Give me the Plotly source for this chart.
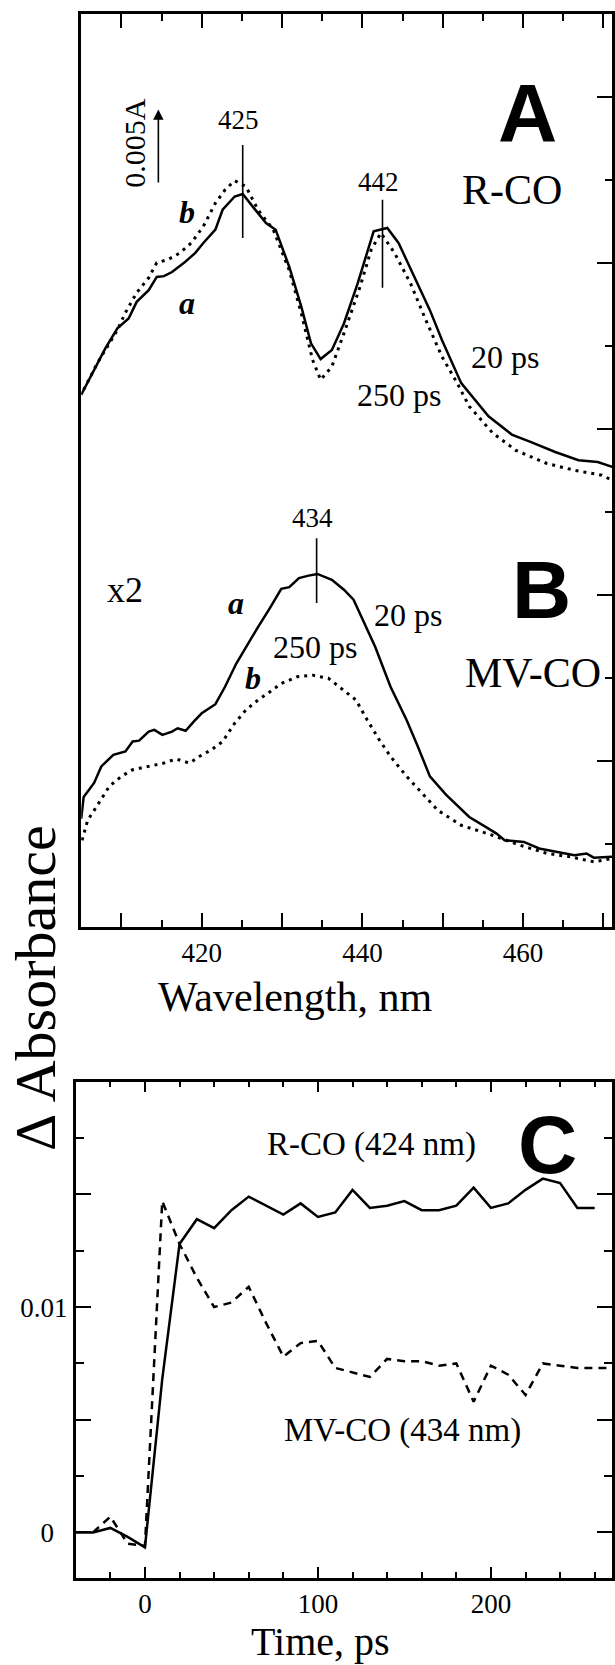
import plotly.graph_objects as go

# ---------------- Panel A (R-CO) transient spectra ----------------
wl_a_20ps = [405.0, 406.6, 408.0, 409.5, 410.9, 411.9, 413.4, 414.4, 415.3, 416.3, 417.8, 419.2,
             420.2, 421.7, 422.6, 424.1, 425.1, 426.5, 428.0, 429.2, 430.9, 432.4, 433.6, 434.8,
             436.2, 437.7, 439.4, 441.4, 443.1, 444.5, 446.5, 448.4, 449.9, 452.3, 455.7, 458.6,
             461.0, 464.0, 466.9, 469.3, 471.1]
dA_a_20ps = [6.41, 6.71, 6.97, 7.21, 7.33, 7.53, 7.67, 7.83, 7.84, 7.89, 8.00, 8.12,
             8.24, 8.40, 8.64, 8.80, 8.83, 8.66, 8.48, 8.40, 7.95, 7.47, 7.03, 6.84,
             6.95, 7.27, 7.75, 8.38, 8.42, 8.24, 7.83, 7.43, 7.07, 6.55, 6.15, 5.93,
             5.84, 5.72, 5.62, 5.60, 5.54]
wl_a_250ps = [405.3, 407.0, 409.5, 410.5, 411.9, 413.4, 414.4, 415.8, 417.3, 418.7, 420.2, 421.7,
              422.9, 424.1, 425.5, 427.0, 428.9, 430.9, 432.4, 433.8, 434.8, 436.2, 437.7, 439.7,
              441.1, 442.3, 444.0, 446.0, 447.9, 449.9, 451.8, 453.3, 456.2, 459.1, 463.0, 466.4,
              469.8, 471.1]
dA_a_250ps = [6.47, 6.79, 7.19, 7.40, 7.64, 7.82, 8.00, 8.04, 8.12, 8.24, 8.44, 8.72,
              8.88, 8.99, 8.92, 8.64, 8.40, 7.91, 7.39, 6.83, 6.59, 6.75, 7.15, 7.71,
              8.16, 8.36, 8.12, 7.75, 7.31, 6.87, 6.55, 6.27, 5.95, 5.74, 5.58, 5.50,
              5.44, 5.38]

# ---------------- Panel B (MV-CO) transient spectra (x2) ----------------
wl_b_20ps = [405.0, 405.3, 406.6, 407.5, 409.0, 410.5, 411.4, 412.2, 413.4, 414.1, 415.1, 416.3,
             417.0, 418.0, 419.0, 420.0, 421.7, 422.9, 424.3, 425.5, 427.0, 428.5, 429.9, 430.9,
             432.1, 433.3, 434.4, 436.2, 437.7, 438.9, 440.1, 441.6, 443.5, 445.5, 446.9, 448.4,
             450.4, 453.3, 455.7, 456.7, 457.7, 460.1, 462.0, 464.0, 466.4, 467.9, 468.8, 471.1]
dA_b_20ps = [1.30, 1.56, 1.73, 1.93, 2.07, 2.11, 2.23, 2.24, 2.35, 2.37, 2.31, 2.35,
             2.39, 2.36, 2.47, 2.57, 2.68, 2.89, 3.17, 3.37, 3.61, 3.84, 4.07, 4.09,
             4.20, 4.23, 4.25, 4.18, 4.06, 3.94, 3.69, 3.37, 2.89, 2.49, 2.17, 1.81,
             1.59, 1.32, 1.18, 1.12, 1.04, 1.02, 0.94, 0.90, 0.86, 0.88, 0.83, 0.84]
wl_b_250ps = [405.1, 405.8, 407.0, 408.5, 410.0, 411.4, 413.4, 415.3, 416.8, 418.5, 419.7, 421.2,
              422.6, 424.1, 425.5, 427.0, 428.5, 429.9, 431.9, 433.8, 435.8, 437.7, 439.2, 440.6,
              442.1, 443.5, 445.5, 447.4, 449.4, 452.3, 456.2, 459.6, 463.0, 465.9, 468.8, 471.1]
dA_b_250ps = [1.04, 1.28, 1.46, 1.69, 1.81, 1.89, 1.93, 1.97, 2.02, 1.97, 2.05, 2.13,
              2.23, 2.45, 2.61, 2.73, 2.83, 2.93, 3.01, 3.03, 2.99, 2.85, 2.73, 2.49,
              2.25, 2.05, 1.81, 1.61, 1.40, 1.22, 1.10, 0.98, 0.88, 0.84, 0.78, 0.82]

# ---------------- Panel C kinetics ----------------
t_rco = [-40, -30, -20, -10, 0, 10, 20, 30, 40, 50, 60, 70, 80, 90, 100, 110, 120, 130, 140,
         150, 160, 170, 180, 190, 200, 210, 220, 230, 240, 250, 260]
dA_rco = [0.0, 0.0, 0.0002, -0.0002, -0.00066, 0.0068, 0.0128, 0.0139, 0.0135, 0.0143, 0.0149,
          0.0145, 0.0141, 0.0146, 0.0140, 0.0142, 0.0152, 0.0144, 0.0145, 0.0147, 0.0143,
          0.0143, 0.0145, 0.0153, 0.0144, 0.0146, 0.0152, 0.0157, 0.0155, 0.0144, 0.0144]
t_mvco = [-30, -20, -10, 0, 10, 20, 30, 40, 50, 60, 70, 80, 90, 100, 110, 120, 130, 140, 150,
          160, 170, 180, 190, 200, 210, 220, 230, 240, 250, 260, 270]
dA_mvco = [0.0, 0.0007, -0.0005, -0.0006, 0.0147, 0.0128, 0.0113, 0.0100, 0.0102, 0.0109,
           0.0093, 0.0078, 0.0084, 0.0085, 0.0073, 0.0071, 0.0069, 0.0077, 0.0076, 0.0076,
           0.0074, 0.0075, 0.0058, 0.0074, 0.0070, 0.0061, 0.0075, 0.0074, 0.0073, 0.0073, 0.0073]

# ---------------- axes ticks ----------------
wl_major = [410, 420, 430, 440, 450, 460, 470]
wl_major_text = ["", "420", "", "440", "", "460", ""]
wl_minor = [415, 425, 435, 445, 455, 465]
spec_major = [0, 2, 4, 6, 8, 10]
spec_minor = [1, 3, 5, 7, 9]
t_major = [0, 100, 200]
t_major_text = ["0", "100", "200"]
t_minor = [-20, 20, 40, 60, 80, 120, 140, 160, 180, 220, 240, 260]
kin_major = [0, 0.005, 0.01, 0.015]
kin_major_text = ["0\u00a0\u00a0", "", "0.01", ""]
kin_minor = [0.0025, 0.0075, 0.0125, 0.0175]

# peak markers (wavelength, top, bottom) in spectrum units
peak_wl = [425.1, 442.5, 434.3]
peak_label = ["425", "442", "434"]
peak_top = [9.42, 8.76, 4.68]
peak_bot = [8.30, 7.70, 3.90]
peak_label_y = [9.72, 8.98, 4.92]

SERIF = "Liberation Serif"
SANS = "Liberation Sans"
BLACK = "black"

fig = go.Figure()

fig.add_trace(go.Scatter(x=wl_a_20ps, y=dA_a_20ps, mode="lines", xaxis="x", yaxis="y",
                         line=dict(color=BLACK, width=2.5)))
fig.add_trace(go.Scatter(x=wl_a_250ps, y=dA_a_250ps, mode="lines", xaxis="x", yaxis="y",
                         line=dict(color=BLACK, width=3, dash="3px,5px")))
fig.add_trace(go.Scatter(x=wl_b_20ps, y=dA_b_20ps, mode="lines", xaxis="x", yaxis="y",
                         line=dict(color=BLACK, width=2.5)))
fig.add_trace(go.Scatter(x=wl_b_250ps, y=dA_b_250ps, mode="lines", xaxis="x", yaxis="y",
                         line=dict(color=BLACK, width=3, dash="3px,5px")))
fig.add_trace(go.Scatter(x=t_rco, y=dA_rco, mode="lines", xaxis="x2", yaxis="y2",
                         line=dict(color=BLACK, width=2.5)))
fig.add_trace(go.Scatter(x=t_mvco, y=dA_mvco, mode="lines", xaxis="x2", yaxis="y2",
                         line=dict(color=BLACK, width=2.5, dash="8px,6px")))

W, H = 615, 1665
# plot-box edges in pixels
up_l, up_r, up_t, up_b = 81.5, 614, 14, 926.5
c_l, c_r, c_t, c_b = 76, 614, 1081.7, 1577.5

axis_common = dict(showgrid=False, zeroline=False, showline=True, linecolor=BLACK,
                   linewidth=2.5, ticks="inside", tickcolor=BLACK, tickwidth=2.2,
                   tickfont=dict(family=SERIF, size=27, color=BLACK))

fig.update_layout(
    width=W, height=H, margin=dict(l=0, r=0, t=0, b=0),
    paper_bgcolor="white", plot_bgcolor="white", showlegend=False,
    font=dict(family=SERIF, color=BLACK),
    xaxis=dict(**axis_common, domain=[up_l / W, up_r / W], range=[405, 471.07],
               anchor="y", mirror="ticks", tickmode="array", tickvals=wl_major,
               ticktext=wl_major_text, ticklen=14,
               minor=dict(tickmode="array", tickvals=wl_minor, ticklen=7, ticks="inside",
                          tickcolor=BLACK, tickwidth=2.2)),
    yaxis=dict(**axis_common, domain=[1 - up_b / H, 1 - up_t / H], range=[0, 11],
               anchor="x", side="right", mirror=True, showticklabels=False,
               tickmode="array", tickvals=spec_major, ticklen=15,
               minor=dict(tickmode="array", tickvals=spec_minor, ticklen=7, ticks="inside",
                          tickcolor=BLACK, tickwidth=2.2)),
    xaxis2=dict(**axis_common, domain=[c_l / W, c_r / W], range=[-40, 270],
                anchor="y2", mirror="ticks", tickmode="array", tickvals=t_major,
                ticktext=t_major_text, ticklen=11,
                minor=dict(tickmode="array", tickvals=t_minor, ticklen=6, ticks="inside",
                           tickcolor=BLACK, tickwidth=2.2)),
    yaxis2=dict(**axis_common, domain=[1 - c_b / H, 1 - c_t / H], range=[-0.002, 0.02],
                anchor="x2", mirror="ticks", tickmode="array", tickvals=kin_major,
                ticktext=kin_major_text, ticklen=15,
                minor=dict(tickmode="array", tickvals=kin_minor, ticklen=8, ticks="inside",
                           tickcolor=BLACK, tickwidth=2.2)),
)

# peak marker lines + labels
for wl, top, bot, lab, ly in zip(peak_wl, peak_top, peak_bot, peak_label, peak_label_y):
    fig.add_shape(type="line", xref="x", yref="y", x0=wl, x1=wl, y0=bot, y1=top,
                  line=dict(color=BLACK, width=1.6))
    fig.add_annotation(x=wl - 0.5, y=ly, xref="x", yref="y", text=lab, showarrow=False,
                       font=dict(family=SERIF, size=27, color=BLACK))

def txt(x, y, s, size, xref="x", yref="y", family=SERIF, xanchor="center", angle=0):
    fig.add_annotation(x=x, y=y, xref=xref, yref=yref, text=s, showarrow=False,
                       xanchor=xanchor, yanchor="middle", textangle=angle,
                       font=dict(family=family, size=size, color=BLACK))

# scale bar arrow 0.005A
fig.add_annotation(x=414.6, y=9.85, ax=414.6, ay=8.95, xref="x", yref="y", axref="x",
                   ayref="y", text="", showarrow=True, arrowhead=2, arrowsize=1.3,
                   arrowwidth=1.6, arrowcolor=BLACK)
txt(411.6, 9.45, "0.005A", 30, angle=-90)

# panel A text
txt(460.5, 9.81, "<b>A</b>", 82, family=SANS)
txt(458.6, 8.88, "R-CO", 42)
txt(418.2, 8.61, "<b><i>b</i></b>", 32)
txt(418.2, 7.52, "<b><i>a</i></b>", 32)
txt(457.7, 6.87, "20 ps", 32)
txt(444.5, 6.41, "250 ps", 32)

# panel B text
txt(410.5, 4.06, "x2", 36)
txt(424.3, 3.90, "<b><i>a</i></b>", 32)
txt(426.4, 2.99, "<b><i>b</i></b>", 32)
txt(445.7, 3.76, "20 ps", 32)
txt(434.1, 3.37, "250 ps", 32)
txt(462.3, 4.06, "<b>B</b>", 82, family=SANS)
txt(452.5, 3.05, "MV-CO", 42, xanchor="left")

# panel C text
txt(232.6, 0.0172, "<b>C</b>", 82, xref="x2", yref="y2", family=SANS)
txt(130.9, 0.0172, "R-CO (424 nm)", 33, xref="x2", yref="y2")
txt(149, 0.00453, "MV-CO (434 nm)", 33, xref="x2", yref="y2")

# axis titles
txt(296 / W, 1 - 997 / H, "Wavelength, nm", 42, xref="paper", yref="paper")
txt(322 / W, 1 - 1641 / H, "Time, ps", 40, xref="paper", yref="paper")
txt(35 / W, 1 - 988 / H, "\u0394 Absorbance", 58, xref="paper", yref="paper", angle=-90)

fig.write_html("out.html")
